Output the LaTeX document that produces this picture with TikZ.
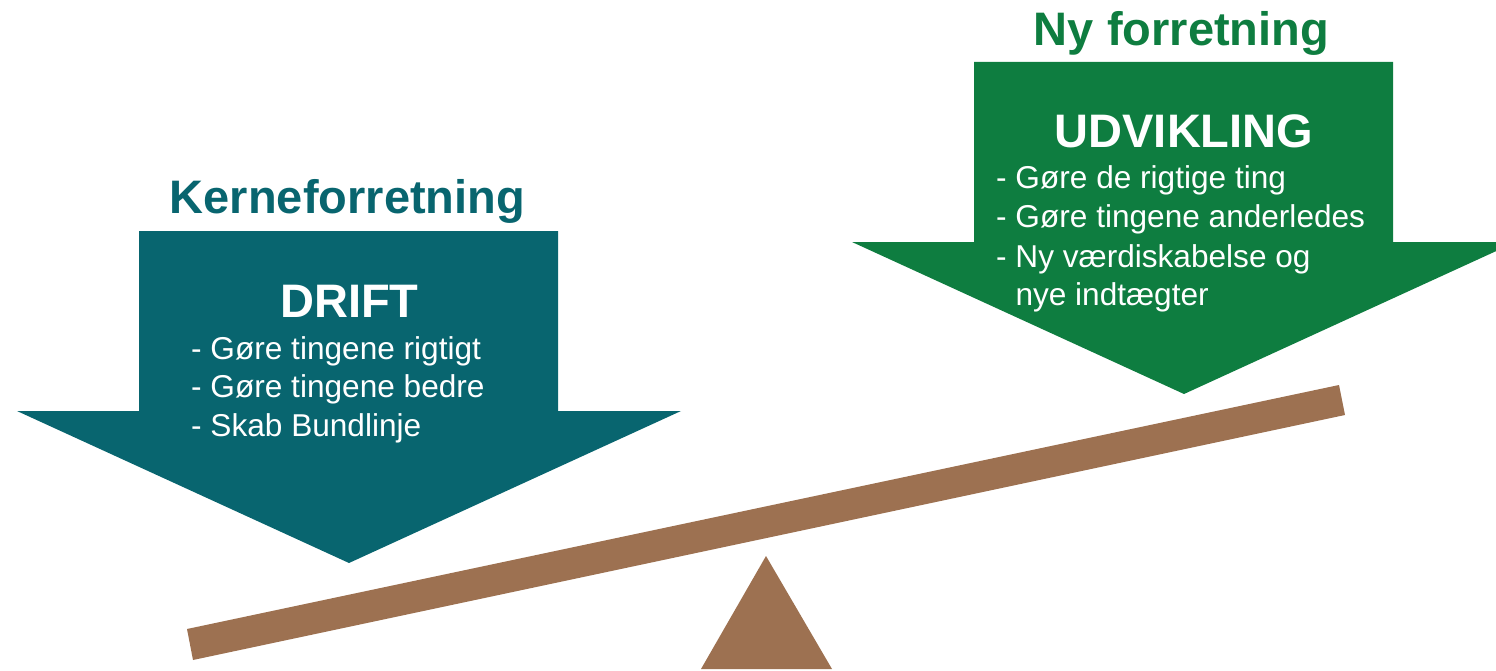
\documentclass[tikz,border=0pt]{standalone}
\usepackage{fontspec}
\setmainfont{Liberation Sans}
\definecolor{tealc}{HTML}{08656F}
\definecolor{greenc}{HTML}{0E7D40}
\definecolor{brownc}{HTML}{9D7151}
\begin{document}
\begin{tikzpicture}[x=1pt,y=-1pt,
  title/.style={anchor=base,inner sep=0pt,font=\fontsize{47}{56}\selectfont\bfseries},
  head/.style={anchor=base,inner sep=0pt,text=white,font=\fontsize{47}{56}\selectfont\bfseries},
  item/.style={anchor=base west,inner sep=0pt,text=white,font=\fontsize{31.6}{38}\selectfont}]
\useasboundingbox (0,0) rectangle (1496,671);
\clip (0,0) rectangle (1496,671);
% arrows
\fill[tealc] (139,231) -- (558,231) -- (558,411) -- (681,411) -- (349,563) -- (17,411) -- (139,411) -- cycle;
\fill[greenc] (974,62) -- (1393,62) -- (1393,242) -- (1516,242) -- (1184,394) -- (852,242) -- (974,242) -- cycle;
% seesaw
\fill[brownc] (187,629) -- (1339,385) -- (1345,415) -- (193,660) -- cycle;
\fill[brownc] (766,556) -- (832,669) -- (701,669) -- cycle;
% texts
\node[title,text=tealc] (kt) at (347.5,214) {Kerneforretning};
\node[head] (drift) at (349.5,317) {DRIFT};
\node[item] (d1) at (191,359) {- Gøre tingene rigtigt};
\node[item] (d2) at (191,397.5) {- Gøre tingene bedre};
\node[item] (d3) at (191,436) {- Skab Bundlinje};
\node[title,text=greenc] (nt) at (1181.5,45.7) {Ny forretning};
\node[head] (udv) at (1184,147.7) {UDVIKLING};
\node[item] (u1) at (996,189) {- Gøre de rigtige ting};
\node[item] (u2) at (996,228) {- Gøre tingene anderledes};
\node[item] (u3) at (996,267) {- Ny værdiskabelse og};
\node[item] (u4) at (996,305) {\phantom{- }nye indtægter};
\end{tikzpicture}
\end{document}
